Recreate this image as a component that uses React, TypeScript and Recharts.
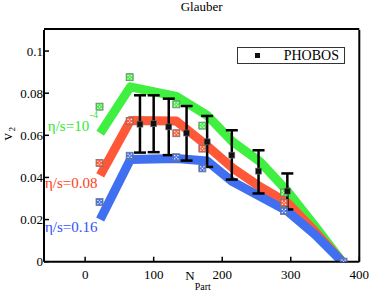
import {
  ComposedChart,
  Line,
  Scatter,
  XAxis,
  YAxis,
  ErrorBar,
  ReferenceDot,
  Legend,
} from "recharts";

const serif = "'Liberation Serif', 'DejaVu Serif', serif";

// hydro bands (eta/s = 1e-4, 0.08, 0.16), sampled at the same N_part values
const bandX = [22, 66, 133, 178, 215, 255, 295, 335, 375];
const greenBand = [0.061, 0.083, 0.0785, 0.0695, 0.057, 0.0475, 0.0335, 0.017, 0];
const redBand = [0.041, 0.067, 0.0668, 0.055, 0.0445, 0.0356, 0.028, 0.0145, 0];
const blueBand = [0.02, 0.0485, 0.049, 0.0478, 0.038, 0.031, 0.024, 0.013, 0];

// checkered markers
const markerX = [21, 65, 133, 171, 290];
const greenMarks = [0.0736, 0.0876, 0.0747, 0.0646, 0.0328];
const redMarks = [0.0469, 0.0668, 0.061, 0.0537, 0.028];
const blueMarkX = [21, 65, 133, 171, 290, 377];
const blueMarks = [0.0283, 0.0503, 0.0496, 0.0443, 0.0241, 0];

// PHOBOS data
const phobosX = [80, 100, 122, 148, 178, 214, 253, 295];
const phobosY = [0.0653, 0.0655, 0.064, 0.0611, 0.0569, 0.0506, 0.043, 0.0335];
const phobosErrLow = [0.0135, 0.0135, 0.0134, 0.0131, 0.0119, 0.0116, 0.0106, 0.0087];
const phobosErrHigh = [0.0137, 0.0135, 0.0134, 0.0128, 0.0123, 0.0118, 0.0099, 0.0084];

const xDomain = [-60, 400];
const xMajor = [0, 100, 200, 300, 400];
const xMinor = [-50, 50, 150, 250, 350];
const yDomain = [0, 0.11];
const yMajor = [0, 0.02, 0.04, 0.06, 0.08, 0.1];
const yMinor = [0.01, 0.03, 0.05, 0.07, 0.09];

const GREEN = "#40f040";
const RED = "#ff5838";
const BLUE = "#4070f0";

const toPts = (xs: number[], ys: number[]) => xs.map((x, i) => ({ x, y: ys[i] }));

const phobosData = phobosX.map((x, i) => ({
  x,
  y: phobosY[i],
  err: [phobosErrLow[i], phobosErrHigh[i]],
}));

const axisLine = { stroke: "#000", strokeWidth: 2 };
const tickLine = { stroke: "#000", strokeWidth: 1.5 };
const tickFont = { fontSize: 13, fill: "#000", fontFamily: serif, style: { fontFamily: serif } };

const checker = (color: string) => (props: any) => {
  const { cx, cy } = props;
  if (cx == null || cy == null) return <g />;
  const dots = [
    [-2.2, -2.2],
    [1, -2.2],
    [-0.6, -0.6],
    [-2.2, 1],
    [1, 1],
  ];
  return (
    <g>
      <rect x={cx - 3.5} y={cy - 3.5} width={7} height={7} fill={color} stroke="#777" strokeWidth={0.8} />
      {dots.map(([dx, dy], i) => (
        <rect key={i} x={cx + dx} y={cy + dy} width={1.2} height={1.2} fill="#fff" />
      ))}
    </g>
  );
};

const phobosShape = (props: any) => {
  const { cx, cy } = props;
  if (cx == null || cy == null) return <g />;
  return <rect x={cx - 3} y={cy - 3} width={6} height={6} fill="#111" stroke="#777" strokeWidth={0.6} />;
};

const bandLabel = (main: string, sup: string, color: string) => (props: any) => {
  const vb = props.viewBox;
  return (
    <text x={vb.x} y={vb.y} fill={color} style={{ fontFamily: serif }} fontSize={15} textAnchor="start">
      <tspan>{main}</tspan>
      {sup ? (
        <tspan fontSize={10} dx={0.5} dy={-13}>
          {sup}
        </tspan>
      ) : null}
    </text>
  );
};

const TitleLabel = (props: any) => {
  const vb = props.viewBox;
  return (
    <text x={vb.x + vb.width / 2} y={vb.y - 17.5} textAnchor="middle" fontSize={13} style={{ fontFamily: serif }} fill="#000">
      Glauber
    </text>
  );
};

const XLabel = (props: any) => {
  const vb = props.viewBox;
  const cx = vb.x + vb.width / 2 - 3.6;
  return (
    <text x={cx} y={vb.y + 18.5} textAnchor="middle" style={{ fontFamily: serif }} fill="#000">
      <tspan fontSize={13}>N</tspan>
      <tspan fontSize={10} dy={10}>
        Part
      </tspan>
    </text>
  );
};

const YLabel = (props: any) => {
  const vb = props.viewBox;
  const tx = vb.x - 31;
  const ty = vb.y + vb.height / 2 - 12;
  return (
    <text x={tx} y={ty} transform={`rotate(-90 ${tx} ${ty})`} textAnchor="middle" style={{ fontFamily: serif }} fill="#000">
      <tspan fontSize={15}>v</tspan>
      <tspan fontSize={9} dx={1.5} dy={3}>
        2
      </tspan>
    </text>
  );
};

const PhobosLegend = () => (
  <div
    style={{
      position: "relative",
      width: 108,
      height: 17,
      boxSizing: "border-box",
      border: "1px solid #333",
      background: "#fff",
      fontFamily: serif,
    }}
  >
    <div style={{ position: "absolute", left: 17.5, top: 5, width: 5, height: 5, background: "#111" }} />
    <div style={{ position: "absolute", left: 46, top: -1, fontSize: 14, lineHeight: "17px", color: "#000" }}>
      PHOBOS
    </div>
  </div>
);

export default function App() {
  return (
    <div style={{ position: "absolute", left: 0, top: 0, background: "#fff", fontFamily: serif }}>
      <ComposedChart
        width={371}
        height={295}
        margin={{ top: 28, right: 9.7, bottom: 31.3, left: 42 }}
        style={{ fontFamily: serif }}
      >
        <XAxis
          dataKey="x"
          type="number"
          domain={xDomain}
          ticks={xMajor}
          interval={0}
          allowDataOverflow
          height={1}
          tickSize={-5}
          tickMargin={13}
          axisLine={axisLine}
          tickLine={tickLine}
          tick={tickFont}
          label={{ content: XLabel }}
        />
        <XAxis
          xAxisId="bmin"
          type="number"
          domain={xDomain}
          ticks={xMinor}
          interval={0}
          allowDataOverflow
          height={1}
          tickSize={-4}
          axisLine={false}
          tickLine={tickLine}
          tick={false}
        />
        <XAxis
          xAxisId="top"
          orientation="top"
          type="number"
          domain={xDomain}
          ticks={xMajor}
          interval={0}
          allowDataOverflow
          height={1}
          tickSize={-5}
          axisLine={axisLine}
          tickLine={tickLine}
          tick={false}
          label={{ content: TitleLabel }}
        />
        <XAxis
          xAxisId="tmin"
          orientation="top"
          type="number"
          domain={xDomain}
          ticks={xMinor}
          interval={0}
          allowDataOverflow
          height={1}
          tickSize={-4}
          axisLine={false}
          tickLine={tickLine}
          tick={false}
        />
        <YAxis
          dataKey="y"
          type="number"
          domain={yDomain}
          ticks={yMajor}
          interval={0}
          allowDataOverflow
          width={1}
          tickSize={-5}
          tickMargin={6}
          axisLine={axisLine}
          tickLine={tickLine}
          tick={tickFont}
          label={{ content: YLabel }}
        />
        <YAxis
          yAxisId="lmin"
          type="number"
          domain={yDomain}
          ticks={yMinor}
          interval={0}
          allowDataOverflow
          width={1}
          tickSize={-4}
          axisLine={false}
          tickLine={tickLine}
          tick={false}
        />
        <YAxis
          yAxisId="right"
          orientation="right"
          type="number"
          domain={yDomain}
          ticks={yMajor}
          interval={0}
          allowDataOverflow
          width={1}
          tickSize={-5}
          axisLine={axisLine}
          tickLine={tickLine}
          tick={false}
        />
        <YAxis
          yAxisId="rmin"
          orientation="right"
          type="number"
          domain={yDomain}
          ticks={yMinor}
          interval={0}
          allowDataOverflow
          width={1}
          tickSize={-4}
          axisLine={false}
          tickLine={tickLine}
          tick={false}
        />

        <Line data={toPts(bandX, greenBand)} dataKey="y" type="linear" stroke={GREEN} strokeWidth={9}
          strokeLinejoin="round" dot={false} activeDot={false} isAnimationActive={false} />
        <Line data={toPts(bandX, redBand)} dataKey="y" type="linear" stroke={RED} strokeWidth={9}
          strokeLinejoin="round" dot={false} activeDot={false} isAnimationActive={false} />
        <Line data={toPts(bandX, blueBand)} dataKey="y" type="linear" stroke={BLUE} strokeWidth={9}
          strokeLinejoin="round" dot={false} activeDot={false} isAnimationActive={false} />

        <Scatter data={toPts(markerX, greenMarks)} dataKey="y" shape={checker(GREEN)} isAnimationActive={false} />
        <Scatter data={toPts(markerX, redMarks)} dataKey="y" shape={checker(RED)} isAnimationActive={false} />
        <Scatter data={toPts(blueMarkX, blueMarks)} dataKey="y" shape={checker(BLUE)} isAnimationActive={false} />

        <Scatter data={phobosData} dataKey="y" shape={phobosShape} isAnimationActive={false}>
          <ErrorBar dataKey="err" direction="y" width={6} strokeWidth={2.5} stroke="#000" isAnimationActive={false} />
        </Scatter>

        <ReferenceDot x={-54.4} y={0.0621} r={0} fill="none" stroke="none"
          label={{ content: bandLabel("η/s=10", "-4", "#33e633") }} />
        <ReferenceDot x={-58.5} y={0.0352} r={0} fill="none" stroke="none"
          label={{ content: bandLabel("η/s=0.08", "", "#ff4020") }} />
        <ReferenceDot x={-58.5} y={0.0142} r={0} fill="none" stroke="none"
          label={{ content: bandLabel("η/s=0.16", "", "#3050ff") }} />

        <Legend
          layout="vertical"
          align="center"
          verticalAlign="middle"
          content={PhobosLegend}
          wrapperStyle={{ left: 236.7, top: 46.7, width: 108, height: 17 }}
        />
      </ComposedChart>
    </div>
  );
}
